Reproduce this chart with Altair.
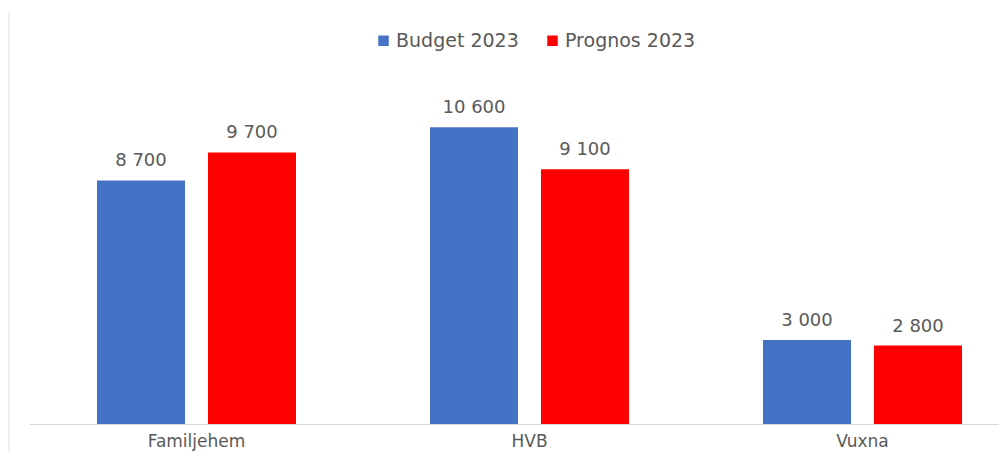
import altair as alt
import pandas as pd

categories = ["Familjehem", "HVB", "Vuxna"]
series = ["Budget 2023", "Prognos 2023"]
budget = [8700, 10600, 3000]
prognos = [9700, 9100, 2800]
colors = ["#4472C4", "#FF0000"]

rows = []
for c, b, p in zip(categories, budget, prognos):
    rows.append({"kat": c, "serie": series[0], "v": b})
    rows.append({"kat": c, "serie": series[1], "v": p})
df = pd.DataFrame(rows)
df["lbl"] = df["v"].map(lambda v: f"{v:,}".replace(",", " "))

FONT = "DejaVu Sans"
GRAY = "#595959"

x_enc = alt.X("kat:N", sort=categories, title=None,
              scale=alt.Scale(paddingInner=1/3, paddingOuter=0.1231, align=0.689),
              axis=alt.Axis(labelAngle=0, ticks=False, domainColor="#D9D9D9",
                            domainWidth=1, labelFont=FONT, labelFontSize=17,
                            labelColor=GRAY, labelPadding=9, grid=False))
xo_enc = alt.XOffset("serie:N", sort=series,
                     scale=alt.Scale(paddingInner=0.207, paddingOuter=0.1035))
y_enc = alt.Y("v:Q", scale=alt.Scale(domain=[0, 12000], nice=False), axis=None)

base = alt.Chart(df)

bars = base.mark_bar().encode(
    x=x_enc, xOffset=xo_enc, y=y_enc,
    color=alt.Color("serie:N", sort=series,
                    scale=alt.Scale(domain=series, range=colors),
                    legend=alt.Legend(title=None, orient="none", direction="horizontal",
                                      legendX=345, legendY=-57, symbolType="square",
                                      symbolSize=110, symbolStrokeWidth=0,
                                      labelFont=FONT, labelFontSize=19, labelColor=GRAY,
                                      labelOffset=3, columnPadding=24, padding=0)),
)

labels = base.mark_text(baseline="alphabetic", dy=-14, font=FONT, fontSize=18,
                        color=GRAY).encode(
    x=alt.X("kat:N", sort=categories), xOffset=alt.XOffset("serie:N", sort=series),
    y="v:Q", text="lbl:N",
)

border = alt.Chart(pd.DataFrame({"a": [0]})).mark_rule(color="#EEEEEE", strokeWidth=2).encode(
    x=alt.value(-20), y=alt.value(-76), y2=alt.value(364)
)

chart = alt.layer(bars, labels, border).properties(
    width=970, height=336,
    background="white",
    autosize=alt.AutoSizeParams(type="none"),
    padding={"left": 21, "top": 80, "right": 0, "bottom": 28},
).configure_view(stroke=None)

chart.save("out.html", embed_options={"renderer": "svg", "actions": False})
